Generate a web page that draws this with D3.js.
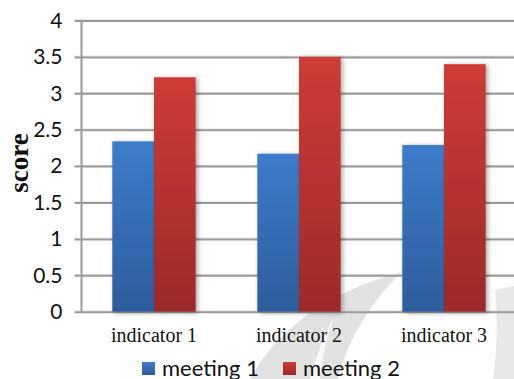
<!DOCTYPE html>
<html>
<head>
<meta charset="utf-8">
<script src="https://cdn.jsdelivr.net/npm/d3@7/dist/d3.min.js"></script>
<style>
  html, body { margin: 0; padding: 0; background: #fff; }
  svg { display: block; }
</style>
</head>
<body>
<svg id="chart" width="514" height="379"></svg>
<script>
// Scores per indicator for each meeting
const categories = ["indicator 1", "indicator 2", "indicator 3"];
const seriesNames = ["meeting 1", "meeting 2"];
const meeting1 = [2.34, 2.17, 2.29];
const meeting2 = [3.22, 3.50, 3.40];
const yTicks = [0, 0.5, 1, 1.5, 2, 2.5, 3, 3.5, 4];

const W = 514, H = 379;
const margin = { left: 81.5, top: 20.5, right: -2.5, bottom: 67.3 };
const svg = d3.select("#chart");
const defs = svg.append("defs");

const palette = {
  "meeting 1": ["#3d7ccb", "#2d5d9c"],
  "meeting 2": ["#cf3b37", "#9b2a29"]
};
Object.entries(palette).forEach(([name, [top, bottom]], i) => {
  const g = defs.append("linearGradient").attr("id", "grad" + i)
    .attr("x1", 0).attr("y1", 0).attr("x2", 0).attr("y2", 1);
  g.append("stop").attr("offset", "0%").attr("stop-color", top);
  g.append("stop").attr("offset", "100%").attr("stop-color", bottom);
});
const shadow = defs.append("filter").attr("id", "shadow")
  .attr("x", "-20%").attr("y", "-10%").attr("width", "150%").attr("height", "130%");
shadow.append("feGaussianBlur").attr("in", "SourceAlpha").attr("stdDeviation", 2.5).attr("result", "b");
shadow.append("feOffset").attr("in", "b").attr("dx", 2).attr("dy", 1).attr("result", "o");
shadow.append("feComponentTransfer").attr("in", "o").attr("result", "s")
  .append("feFuncA").attr("type", "linear").attr("slope", 0.35);
const merge = shadow.append("feMerge");
merge.append("feMergeNode").attr("in", "s");
merge.append("feMergeNode").attr("in", "SourceGraphic");

// faint background swoosh
const bg = svg.append("g").attr("fill", "#e2e2e2");
bg.append("path").attr("d", "M250,379 C272,338 318,294 402,272 C372,300 348,338 338,379 Z");
bg.append("path").attr("d", "M310,379 C318,350 326,330 334,318 C328,335 322,355 320,379 Z").attr("fill", "#fff").attr("opacity", 0.8);
bg.append("path").attr("d", "M493,379 C497,350 498,320 495,290 L514,286 L514,379 Z").attr("opacity", 0.8);

const x0 = d3.scaleBand().domain(categories)
  .range([margin.left, W - margin.right])
  .paddingInner(0.425).paddingOuter(0.2125);
const x1 = d3.scaleBand().domain(seriesNames).range([0, x0.bandwidth()]).padding(0);
const y = d3.scaleLinear().domain([0, 4]).range([H - margin.bottom, margin.top]);

// gridlines and tick marks
const yAxis = d3.axisLeft(y).tickValues(yTicks).tickFormat(d3.format("~g"))
  .tickSize(-(W - margin.left + 10)).tickPadding(13);
const gy = svg.append("g").attr("transform", `translate(${margin.left},0)`).call(yAxis);
gy.select(".domain").remove();
gy.selectAll(".tick line").attr("x1", -7).attr("stroke", "#9a9a9a").attr("stroke-width", 2);
gy.selectAll(".tick").insert("line", "line")
  .attr("x1", -7).attr("x2", W).attr("y1", -1.2).attr("y2", -1.2)
  .attr("stroke", "#dcdcdc").attr("stroke-width", 1);
gy.selectAll(".tick text")
  .attr("font-family", "Lato, 'Open Sans', sans-serif").attr("font-size", 21).attr("fill", "#111")
  .attr("x", -19);

// vertical axis line
svg.append("line")
  .attr("x1", margin.left).attr("x2", margin.left)
  .attr("y1", y(4) - 0.5).attr("y2", y(0) + 1)
  .attr("stroke", "#9a9a9a").attr("stroke-width", 2);

// bars
const rows = categories.map((c, i) => ({ cat: c, values: [meeting1[i], meeting2[i]] }));
const groups = svg.append("g").selectAll("g").data(rows).join("g")
  .attr("transform", d => `translate(${x0(d.cat)},0)`);
groups.selectAll("rect")
  .data(d => d.values.map((v, j) => ({ name: seriesNames[j], j, v })))
  .join("rect")
  .attr("x", d => x1(d.name))
  .attr("y", d => y(d.v))
  .attr("width", x1.bandwidth())
  .attr("height", d => y(0) - y(d.v))
  .attr("fill", d => `url(#grad${d.j})`)
  .attr("filter", "url(#shadow)");

// category labels
const xAxis = d3.axisBottom(x0).tickSize(0);
const gx = svg.append("g").attr("transform", `translate(0,${y(0)})`).call(xAxis);
gx.select(".domain").remove();
gx.selectAll(".tick text")
  .attr("y", 30.5).attr("dy", 0)
  .attr("font-family", "'Liberation Serif', 'Times New Roman', serif")
  .attr("font-size", 20).attr("fill", "#111");

// y axis title
svg.append("text")
  .attr("transform", `translate(28,163) rotate(-90)`)
  .attr("text-anchor", "middle")
  .attr("font-family", "'Liberation Serif', 'Times New Roman', serif")
  .attr("font-weight", "bold").attr("font-size", 27).attr("fill", "#111")
  .text("score");

// legend
const legendX = [142, 283];
const legend = svg.append("g").selectAll("g").data(seriesNames).join("g")
  .attr("transform", (d, i) => `translate(${legendX[i]},362)`);
legend.append("rect").attr("width", 13).attr("height", 13)
  .attr("fill", (d, i) => `url(#grad${i})`);
legend.append("text").attr("x", 20).attr("y", 13.5)
  .attr("font-family", "Lato, 'Open Sans', sans-serif").attr("font-size", 22).attr("fill", "#111")
  .text(d => d);
</script>
</body>
</html>
